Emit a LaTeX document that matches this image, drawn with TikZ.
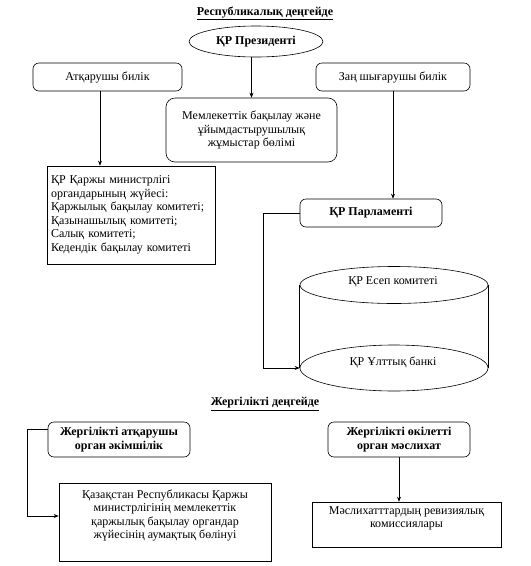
\documentclass[tikz,border=0pt]{standalone}
\usepackage{fontspec}
\setmainfont{Liberation Serif}
\usepackage{tikz}
\usetikzlibrary{arrows.meta,shapes.geometric,positioning}
\newcommand{\diagfont}{\fontsize{12}{13.5}\selectfont}
\tikzset{
  rbox/.style={draw,rounded corners=6pt,align=center,inner sep=2pt},
  sbox/.style={draw,align=center,inner sep=3pt},
  bold/.style={font=\bfseries\diagfont}
}

\begin{document}
\begin{tikzpicture}[x=1pt,y=-1pt,line width=0.6pt,>={Stealth[length=5pt,width=4pt]},
  font=\diagfont]
\useasboundingbox (0,0) rectangle (531,566);
% republic level
\node[bold] (rep) at (265,13) {\underline{Республикалық деңгейде}};
\node[draw,ellipse,bold,minimum width=134,minimum height=31,inner sep=0] (pres) at (256,41.5) {ҚР Президенті};
\node[rbox,minimum width=149,minimum height=28] (exec) at (107.5,77) {Атқарушы билік};
\node[rbox,minimum width=154,minimum height=28] (leg) at (393,77) {Заң шығарушы билік};
\node[rbox,rounded corners=9pt,minimum width=171,minimum height=64] (dept) at (251.5,130)
  {Мемлекеттік бақылау және\\ұйымдастырушылық\\жұмыстар бөлімі};
\node[sbox,align=left,text width=160,minimum height=98,inner sep=4pt] (min) at (131,215)
  {ҚР Қаржы министрлігі\\органдарының жүйесі:\\Қаржылық бақылау комитеті;\\Қазынашылық комитеті;\\Салық комитеті;\\Кедендік бақылау комитеті\\[4pt]};
\node[rbox,bold,minimum width=142,minimum height=28] (parl) at (371,213) {ҚР Парламенті};
% cylinder
\node[draw,ellipse,minimum width=188,minimum height=37,inner sep=0] (esep) at (394,285) {};
\node[draw,ellipse,minimum width=188,minimum height=46,inner sep=0] (bank) at (394,368) {};
\draw (esep.west) -- (bank.west) (esep.east) -- (bank.east);
\node (esept) at (393,282) {ҚР Есеп комитеті};
\node (bankt) at (393,362) {ҚР Ұлттық банкі};
\draw[->] (dept.north |- pres.south) -- (dept.north);
\draw[->] ([xshift=-7.5]exec.south) coordinate (e1) -- (e1 |- min.north);
\draw[->] (leg.south) -- (leg.south |- parl.north);
\draw[->] (parl.west) -- ++(-36,0) |- (bank.west);
% local level
\node[bold] (loc) at (265,404) {\underline{Жергілікті деңгейде}};
\node[rbox,bold,minimum width=142,minimum height=35] (akim) at (119,439.5)
  {Жергілікті атқарушы\\орган әкімшілік};
\node[rbox,bold,minimum width=142,minimum height=35] (masl) at (399,439.5)
  {Жергілікті өкілетті\\орган мәслихат};
\node[sbox,minimum width=212,minimum height=78] (terr) at (165,522)
  {Қазақстан Республикасы Қаржы\\министрлігінің мемлекеттік\\қаржылық бақылау органдар\\жүйесінің аумақтық бөлінуі\\[2pt]};
\node[sbox,minimum width=189,minimum height=45] (rev) at (406.5,524.5)
  {Мәслихатттардың ревизиялық\\комиссиялары\\[1pt]};
\draw[->] ([yshift=10.5]akim.west) -- ++(-20,0) |- ([yshift=6]terr.west);
\draw[->] (masl.south) -- (masl.south |- rev.north);
\end{tikzpicture}
\end{document}
